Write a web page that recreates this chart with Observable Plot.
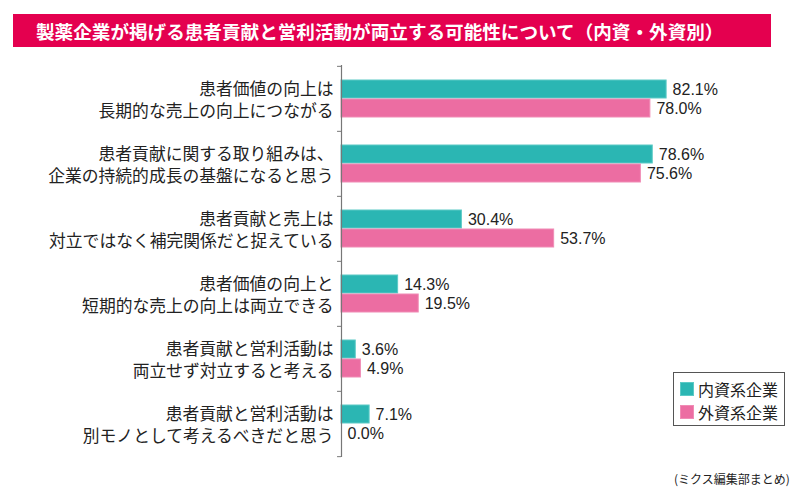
<!DOCTYPE html>
<html><head><meta charset="utf-8">
<script src="https://cdn.jsdelivr.net/npm/d3@7"></script>
<script src="https://cdn.jsdelivr.net/npm/@observablehq/plot@0.6"></script>
<style>
body{margin:0;background:#fff;}
#wrap{position:relative;width:800px;height:499px;overflow:hidden;font-family:"Noto Sans CJK JP",sans-serif;}
#chart{position:absolute;left:0;top:0;}
#title{position:absolute;left:13px;top:14px;width:758px;height:33px;background:#e4004f;color:#fff;font-size:18.6px;font-weight:bold;line-height:33px;padding-left:23px;box-sizing:border-box;white-space:nowrap;}
#legend{position:absolute;left:673px;top:372px;width:112px;height:54px;border:1px solid #555;box-sizing:border-box;background:#fff;}
.item{position:absolute;left:6px;height:16px;font-size:16px;line-height:16px;color:#222;white-space:nowrap;}
.sw{position:absolute;left:0;top:1px;width:14px;height:14px;box-sizing:border-box;}
.lb{position:absolute;left:18px;top:0;}
#caption{position:absolute;left:674px;top:470px;font-size:12px;color:#222;white-space:nowrap;}
</style>
</head>
<body>
<div id="wrap">
  <div id="chart"></div>
  <div id="title"></div>
  <div id="legend"></div>
  <div id="caption"></div>
</div>
<script>
const titleText = "製薬企業が掲げる患者貢献と営利活動が両立する可能性について（内資・外資別）";
const captionText = "(ミクス編集部まとめ)";
const categories = [
  "患者価値の向上は\n長期的な売上の向上につながる",
  "患者貢献に関する取り組みは、\n企業の持続的成長の基盤になると思う",
  "患者貢献と売上は\n対立ではなく補完関係だと捉えている",
  "患者価値の向上と\n短期的な売上の向上は両立できる",
  "患者貢献と営利活動は\n両立せず対立すると考える",
  "患者貢献と営利活動は\n別モノとして考えるべきだと思う"
];
const series = ["内資系企業", "外資系企業"];
const domestic = [82.1, 78.6, 30.4, 14.3, 3.6, 7.1];
const foreign = [78.0, 75.6, 53.7, 19.5, 4.9, 0.0];
const colors = ["#2bb6b3", "#ec6da2"];
const strokes = ["#5ccac6", "#f08cb5"];

const dom = categories.map((c, i) => ({category: c, value: domestic[i], series: series[0]}));
const frn = categories.map((c, i) => ({category: c, value: foreign[i], series: series[1]}));

const W = 800, H = 499, mT = 65, mB = 42, mL = 341, mR = 63;
const step = (H - mT - mB) / categories.length;
const fmt = d => d.value.toFixed(1) + "%";
const numFont = "'Liberation Sans', Arial, sans-serif";

const chart = Plot.plot({
  width: W, height: H,
  marginTop: mT, marginBottom: mB, marginLeft: mL, marginRight: mR,
  style: {fontFamily: "'Noto Sans CJK JP', sans-serif", background: "transparent", overflow: "visible"},
  x: {domain: [0, 100], axis: null},
  y: {domain: categories, axis: null, padding: 0},
  marks: [
    Plot.barX(dom, {x: "value", y: "category", fill: colors[0], stroke: strokes[0], strokeWidth: 1, insetTop: 14, insetBottom: 33}),
    Plot.barX(frn, {x: "value", y: "category", fill: colors[1], stroke: strokes[1], strokeWidth: 1, insetTop: 33, insetBottom: 14}),
    Plot.text(dom, {x: "value", y: "category", text: fmt, dx: 6, dy: -9.5, textAnchor: "start", fontSize: 16, fontFamily: numFont, fill: "#222"}),
    Plot.text(frn, {x: "value", y: "category", text: fmt, dx: 6, dy: 9.5, textAnchor: "start", fontSize: 16, fontFamily: numFont, fill: "#222"}),
    Plot.text(categories, {x: 0, y: d => d, text: d => d, textAnchor: "end", dx: -8, fontSize: 16.8, lineHeight: 1.31, fill: "#222"}),
    Plot.ruleX([0], {stroke: "#777", strokeWidth: 1.2}),
    Plot.ruleY(categories, {y: d => d, x1: -1, x2: 0, dy: -step / 2, stroke: "#777"}),
    Plot.ruleY(categories.slice(-1), {y: d => d, x1: -1, x2: 0, dy: step / 2, stroke: "#777"})
  ]
});
document.getElementById("chart").appendChild(chart);
document.getElementById("title").textContent = titleText;
document.getElementById("caption").textContent = captionText;

const legend = document.getElementById("legend");
series.forEach((s, i) => {
  const it = document.createElement("div");
  it.className = "item";
  it.style.top = (8 + i * 23) + "px";
  const sw = document.createElement("span");
  sw.className = "sw";
  sw.style.background = colors[i];
  sw.style.border = "1px solid " + strokes[i];
  const lb = document.createElement("span");
  lb.className = "lb";
  lb.textContent = s;
  it.appendChild(sw); it.appendChild(lb);
  legend.appendChild(it);
});
</script>
</body></html>
